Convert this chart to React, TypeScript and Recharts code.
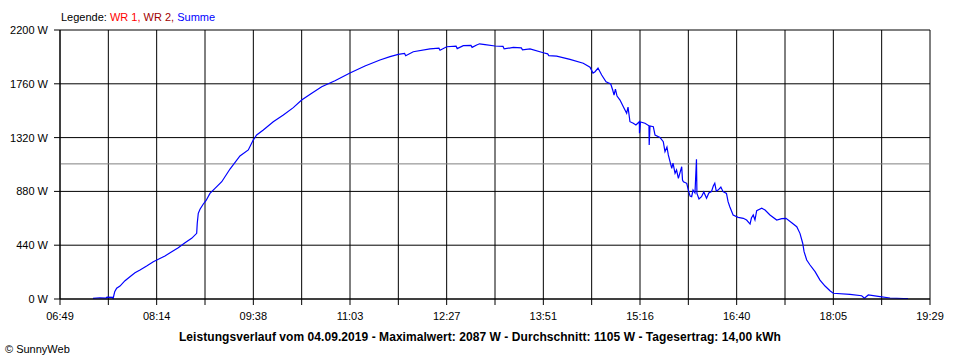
import React from 'react';
import { LineChart, Line, XAxis, YAxis, CartesianGrid, ReferenceLine } from 'recharts';

// Tick labels
const timeLabels = ["06:49", "08:14", "09:38", "11:03", "12:27", "13:51", "15:16", "16:40", "18:05", "19:29"];
const yTicks = [0, 440, 880, 1320, 1760, 2200];
const averageW = 1105;

// Series "Summe": time in minutes since midnight, power in W
const timeMin = [
  437.8, 443.9, 449.2, 450.1, 455.0, 455.3, 456.8, 458.5, 461.4, 465.8,
  470.1, 474.5, 478.9, 484.7, 490.5, 494.9, 500.7, 506.6, 512.3, 518.2,
  524.0, 528.4, 528.9, 529.8, 531.3, 534.2, 536.5, 540.0, 544.4, 550.3,
  557.5, 566.2, 573.5, 577.8, 580.8, 586.6, 595.3, 604.1, 612.8, 620.1,
  628.9, 637.6, 649.2, 662.3, 675.4, 688.5, 697.3, 704.5, 710.0, 711.0, 717.6, 732.2,
  740.0, 741.0, 746.8, 755.0, 756.0, 761.3, 768.0, 769.0, 773.0, 775.5, 780.3, 789.0,
  796.0, 797.0, 805.0, 812.0, 813.0, 819.6, 831.2, 835.0, 836.0, 842.9,
  854.5, 866.1, 872.0, 874.6, 876.4, 879.0, 882.2, 886.0, 890.1, 891.8,
  893.0, 894.2, 895.6, 898.2, 901.1, 904.0, 905.2, 906.9, 909.8, 912.1,
  915.1, 915.2, 916.1, 920.0, 923.5, 923.7, 924.4, 927.3, 928.8, 933.1,
  936.0, 937.5, 939.2, 940.4, 941.9, 943.4, 944.5, 946.3, 947.6, 949.2,
  952.1, 952.8, 953.6, 956.5, 957.9, 959.4, 960.8, 962.0, 963.7, 965.0,
  965.4, 967.2, 969.4, 971.4, 973.8, 975.8, 978.1, 979.7, 981.0, 982.3,
  983.9, 986.3, 988.2, 991.2, 992.6, 994.1, 997.0, 1001.4, 1005.9, 1008.8,
  1011.8, 1013.0, 1014.6, 1016.1, 1017.6, 1022.0, 1024.9, 1029.2, 1035.1, 1039.5,
  1043.2, 1048.2, 1052.6, 1055.4, 1057.8, 1059.0, 1061.3, 1064.2, 1068.6, 1072.9,
  1077.3, 1081.6, 1084.5, 1099.1, 1109.3, 1111.7, 1115.1, 1125.3, 1134.1, 1145.7,
  1149.8,
];
const summeW = [
  5, 10, 8, 15, 14, 0, 60, 88, 106, 150,
  182, 215, 237, 270, 305, 325, 352, 387, 420, 460,
  496, 537, 619, 701, 734, 777, 804, 864, 905, 959,
  1063, 1170, 1219, 1300, 1341, 1382, 1450, 1505, 1565, 1627,
  1682, 1736, 1785, 1848, 1906, 1955, 1982, 2001, 2008, 1990, 2022, 2045,
  2052, 2035, 2063, 2068, 2048, 2072, 2074, 2058, 2077, 2087, 2080, 2069,
  2066, 2045, 2058, 2054, 2038, 2045, 2014, 2005, 1990, 1987,
  1960, 1928, 1895, 1848, 1859, 1889, 1832, 1777, 1758, 1709,
  1668, 1717, 1660, 1627, 1573, 1519, 1570, 1450, 1437, 1423,
  1450, 1355, 1448, 1437, 1417, 1259, 1415, 1409, 1341, 1322,
  1286, 1205, 1243, 1178, 1123, 1069, 1112, 1028, 1055, 987,
  1082, 973, 959, 946, 891, 842, 837, 891, 867, 1143,
  864, 818, 837, 875, 824, 867, 878, 924, 946, 883,
  891, 916, 878, 864, 796, 755, 687, 668, 660, 646,
  613, 662, 687, 646, 722, 742, 728, 687, 646, 657,
  660, 624, 591, 537, 456, 387, 319, 278, 224, 155,
  106, 68, 47, 38, 27, 6, 33, 19, 8, 4,
  4,
];

const data = timeMin.map((t, i) => ({ t, w: summeW[i] }));

const toMin = (s: string) => {
  const [h, m] = s.split(':').map(Number);
  return h * 60 + m;
};
const xStart = toMin(timeLabels[0]);
const xEnd = toMin(timeLabels[timeLabels.length - 1]);
const nSteps = (timeLabels.length - 1) * 2;
const xTicks = Array.from({ length: nSteps + 1 }, (_, i) => xStart + (i * (xEnd - xStart)) / nSteps);

const FONT = '"Liberation Sans", Arial, sans-serif';

export default function App() {
  return (
    <div style={{ position: 'absolute', left: 0, top: 0, width: 960, height: 360, background: '#fff', fontFamily: FONT }}>
      <div style={{ position: 'absolute', left: 61, top: 11, fontSize: 11, whiteSpace: 'pre', color: '#000' }}>
        <span>Legende: </span>
        <span style={{ color: '#ff0000' }}>WR 1, </span>
        <span style={{ color: '#a00000' }}>WR 2, </span>
        <span style={{ color: '#0000ff' }}>Summe</span>
      </div>
      <LineChart width={960} height={360} data={data} margin={{ top: 30, right: 30, bottom: 0, left: 0 }}>
        <CartesianGrid stroke="#000" strokeWidth={1} vertical horizontal />
        <XAxis
          dataKey="t"
          type="number"
          domain={[xStart, xEnd]}
          ticks={xTicks}
          interval={0}
          height={61}
          tickSize={6}
          tickMargin={7}
          axisLine={{ stroke: '#000' }}
          tickLine={{ stroke: '#000' }}
          tick={{ fill: '#000', fontSize: 11, fontFamily: FONT }}
          tickFormatter={(v: number, i: number) => (i % 2 === 0 ? timeLabels[i / 2] : '')}
        />
        <YAxis
          type="number"
          domain={[0, 2200]}
          ticks={yTicks}
          interval={0}
          width={60}
          tickSize={6}
          tickMargin={6}
          axisLine={{ stroke: '#000' }}
          tickLine={{ stroke: '#000' }}
          tick={{ fill: '#000', fontSize: 11, fontFamily: FONT }}
          tickFormatter={(v: number) => `${v} W`}
        />
        <ReferenceLine y={averageW} stroke="#808080" strokeWidth={1} />
        <Line type="linear" dataKey="w" stroke="#0000ff" strokeWidth={1.2} dot={false} isAnimationActive={false} />
      </LineChart>
      <div style={{ position: 'absolute', left: 0, width: 960, top: 330, textAlign: 'center', fontSize: 12, fontWeight: 'bold', color: '#000', whiteSpace: 'pre', letterSpacing: 0.06 }}>
        Leistungsverlauf vom 04.09.2019 - Maximalwert: 2087 W - Durchschnitt: 1105 W - Tagesertrag: 14,00 kWh
      </div>
      <div style={{ position: 'absolute', left: 5, top: 343, fontSize: 11, color: '#000', whiteSpace: 'pre' }}>© SunnyWeb</div>
    </div>
  );
}
